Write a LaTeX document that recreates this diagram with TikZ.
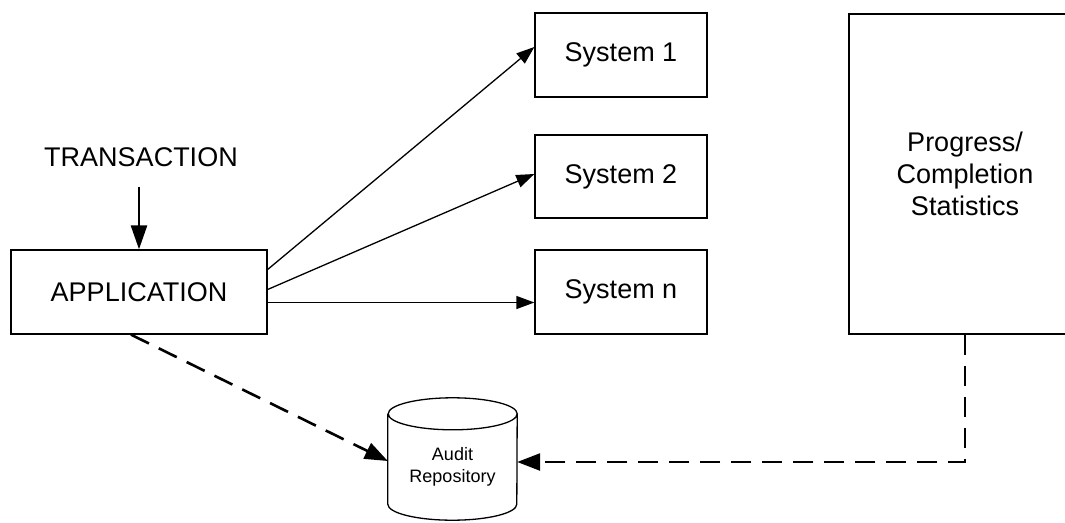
\documentclass[tikz,border=0pt]{standalone}
\usepackage{fontspec}
\setmainfont{Liberation Sans}
\usetikzlibrary{arrows.meta,positioning}
\begin{document}
\begin{tikzpicture}[x=1pt,y=1pt,
  box/.style={draw,line width=1.3pt,rectangle,inner sep=0pt,align=center,font=\fontsize{27}{32}\selectfont},
  conn/.style={line width=1.3pt,-{Triangle[length=18pt,width=13pt]}},
  dashconn/.style={line width=2.6pt,dash pattern=on 20pt off 11pt,-{Triangle[length=23pt,width=17pt]}},
  thickconn/.style={line width=2.6pt,-{Triangle[length=24pt,width=16pt]}}]
\clip (0,0) rectangle (1065,-522);
\useasboundingbox (0,0) rectangle (1065,-522);
\fill[white] (0,0) rectangle (1065,-522);
% nodes
\node[box,minimum width=256pt,minimum height=84pt] (app) at (139,-292) {APPLICATION};
\node[font=\fontsize{27}{32}\selectfont,inner xsep=0pt,inner ysep=20pt] (trans) at (141,-157) {TRANSACTION};
\node[box,minimum width=172pt,minimum height=84pt] (s1) at (621,-55) {System 1};
\node[box,minimum width=172pt,minimum height=83pt] (s2) at (621,-176.5) {System 2};
\node[box,minimum width=172pt,minimum height=84pt] (sn) at (621,-292) {System n};
\node[box,minimum width=232pt,minimum height=320pt] (prog) at (965,-174) {Progress/\\Completion\\Statistics};
\node[inner sep=0pt,minimum width=129pt,minimum height=122pt,
      font=\fontsize{18}{22}\selectfont] (audit) at (452.5,-459)
      {\raisebox{-12pt}[0pt][0pt]{\begin{tabular}{@{}c@{}}Audit\\Repository\end{tabular}}};
% cylinder outline
\draw[line width=1.3pt]
  ([yshift=-16pt]audit.north west) -- ([yshift=16pt]audit.south west)
  arc[start angle=180,end angle=360,x radius=64.5pt,y radius=16pt]
  -- ([yshift=-16pt]audit.north east)
  arc[start angle=0,end angle=360,x radius=64.5pt,y radius=16pt];
% connectors
\draw[thickconn] (trans.south -| app.north) -- (app.north);
\draw[conn] ([yshift=22.5pt]app.east) -- ([yshift=8pt]s1.west);
\draw[conn] ([yshift=2.5pt]app.east) -- ([yshift=2.5pt]s2.west);
\draw[conn] ([yshift=-10.5pt]app.east) -- ([yshift=-10.5pt]sn.west);
\draw[dashconn] ([xshift=-8pt]app.south) -- ([yshift=-2pt]audit.west);
\draw[dashconn] (prog.south) |- ([yshift=-3pt]audit.east);
\end{tikzpicture}
\end{document}
